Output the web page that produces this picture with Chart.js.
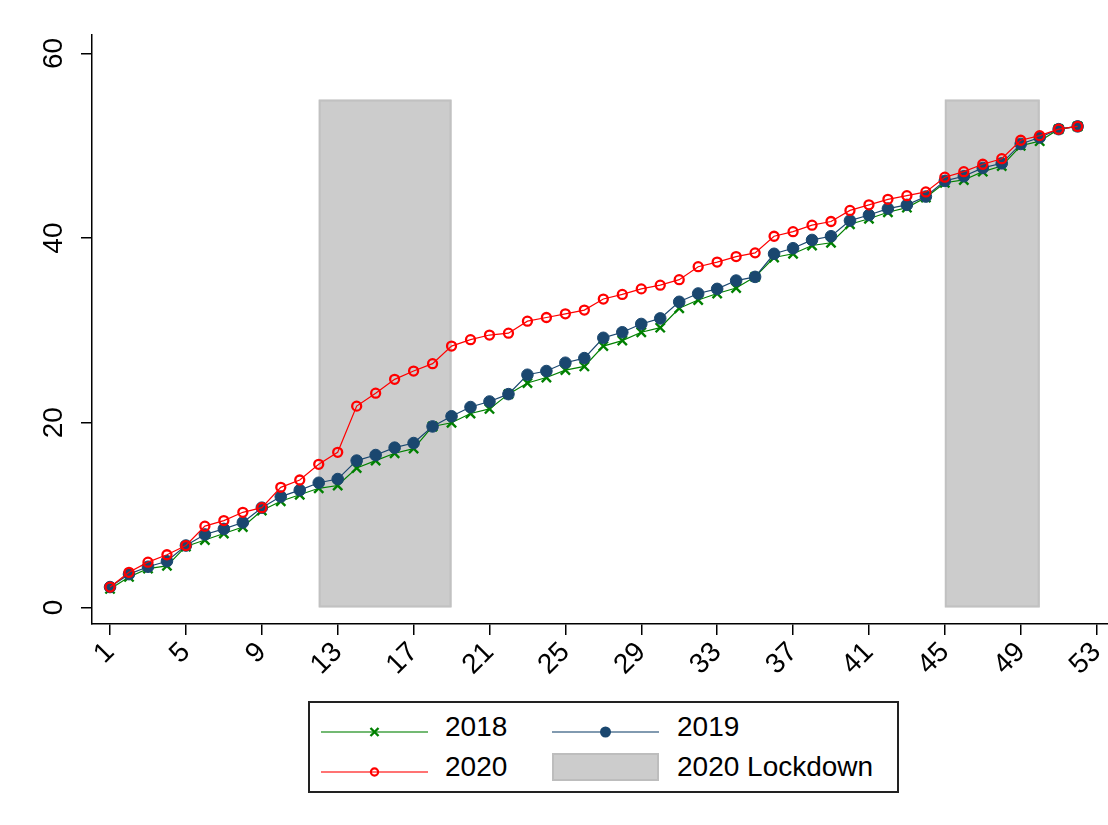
<!DOCTYPE html>
<html>
<head>
<meta charset="utf-8">
<script src="https://cdn.jsdelivr.net/npm/chart.js@4.4.1/dist/chart.umd.min.js"></script>
<style>
  body { margin: 0; background: #fff; }
  #wrap { position: relative; width: 1108px; height: 825px; }
  #chart { position: absolute; left: 0; top: 0; }
  #legend {
    position: absolute; left: 308px; top: 701px; width: 591px; height: 92px;
    box-sizing: border-box; border: 2px solid #222;
    font-family: "Liberation Sans", Arial, sans-serif; font-size: 28px; color: #000;
  }
  .key { position: absolute; }
  .lbl { position: absolute; line-height: 1; transform: translateY(-50%); white-space: nowrap; }
</style>
</head>
<body>
<div id="wrap">
  <canvas id="chart" width="1108" height="700"></canvas>
  <div id="legend"></div>
</div>
<script>
// week of year
var weeks = [1, 2, 3, 4, 5, 6, 7, 8, 9, 10, 11, 12, 13, 14, 15, 16, 17, 18, 19, 20,
  21, 22, 23, 24, 25, 26, 27, 28, 29, 30, 31, 32, 33, 34, 35, 36, 37, 38, 39, 40,
  41, 42, 43, 44, 45, 46, 47, 48, 49, 50, 51, 52];

var y2018 = [2.0, 3.3, 4.2, 4.5, 6.6, 7.3, 8.0, 8.7, 10.5, 11.5, 12.2, 12.9, 13.2, 15.1, 15.9, 16.7, 17.2, 19.6, 20.0, 21.0,
  21.5, 23.1, 24.3, 24.9, 25.7, 26.1, 28.3, 28.9, 29.8, 30.3, 32.4, 33.3, 34.0, 34.6, 35.8, 37.9, 38.3, 39.2, 39.5, 41.5,
  42.1, 42.8, 43.3, 44.4, 46.0, 46.3, 47.2, 47.8, 50.0, 50.5, 51.8, 52.1];

var y2019 = [2.2, 3.6, 4.4, 5.0, 6.7, 7.9, 8.5, 9.2, 10.8, 12.0, 12.7, 13.5, 13.9, 15.9, 16.5, 17.3, 17.8, 19.6, 20.7, 21.7,
  22.3, 23.1, 25.2, 25.6, 26.5, 27.0, 29.2, 29.8, 30.7, 31.3, 33.1, 34.0, 34.5, 35.4, 35.8, 38.3, 38.9, 39.8, 40.2, 41.9,
  42.5, 43.2, 43.6, 44.5, 46.2, 46.7, 47.6, 48.1, 50.2, 50.9, 51.8, 52.1];

var y2020 = [2.2, 3.8, 4.9, 5.7, 6.7, 8.8, 9.4, 10.3, 10.8, 13.0, 13.8, 15.5, 16.8, 21.8, 23.2, 24.7, 25.6, 26.4, 28.3, 29.0,
  29.5, 29.7, 31.0, 31.4, 31.8, 32.2, 33.4, 33.9, 34.5, 34.9, 35.5, 36.9, 37.4, 38.0, 38.4, 40.2, 40.7, 41.4, 41.8, 43.0,
  43.6, 44.2, 44.6, 45.0, 46.6, 47.2, 48.0, 48.6, 50.6, 51.1, 51.8, 52.1];

// lockdown periods (weeks) and the height of the shading
var lockdownStart = [12, 45];
var lockdownEnd = [19, 50];
var lockdownTop = 55;

var xTicks = [1, 5, 9, 13, 17, 21, 25, 29, 33, 37, 41, 45, 49, 53];
var yTicks = [0, 20, 40, 60];

var fonte = '"Liberation Sans", Arial, sans-serif';

function pontos(valores){
    return weeks.map(function(w, i){ return {x: w, y: valores[i]}; });
}

// grey blocks behind the lines
var sombraLockdown = {
    id: 'sombraLockdown',
    beforeDatasetsDraw: function(chart){
        var ctx = chart.ctx, x = chart.scales.x, y = chart.scales.y;
        ctx.save();
        ctx.fillStyle = '#cccccc';
        ctx.strokeStyle = '#c1c1c1';
        ctx.lineWidth = 2;
        for (var i = 0; i < lockdownStart.length; i++) {
            var esq = x.getPixelForValue(lockdownStart[i]);
            var dir = x.getPixelForValue(lockdownEnd[i]);
            var topo = y.getPixelForValue(lockdownTop);
            var base = y.getPixelForValue(0);
            ctx.fillRect(esq, topo, dir - esq, base - topo);
            ctx.strokeRect(esq + 1, topo + 1, dir - esq - 2, base - topo - 2);
        }
        ctx.restore();
    }
};

var series = [
    {
        label: '2018', data: pontos(y2018), order: 3,
        borderColor: '#008000', backgroundColor: '#008000', borderWidth: 1.2,
        pointStyle: 'crossRot', pointRadius: 6.5, pointBorderWidth: 2.4,
        legendLine: 'rgba(0,128,0,0.55)'
    },
    {
        label: '2019', data: pontos(y2019), order: 2,
        borderColor: '#1a476f', backgroundColor: '#1a476f', borderWidth: 1.2,
        pointStyle: 'circle', pointRadius: 5.8, pointBorderWidth: 1,
        legendLine: 'rgba(26,71,111,0.55)'
    },
    {
        label: '2020', data: pontos(y2020), order: 1,
        borderColor: '#ff0000', backgroundColor: 'rgba(0,0,0,0)', borderWidth: 1.2,
        pointStyle: 'circle', pointRadius: 4.5, pointBorderWidth: 2.3,
        legendLine: 'rgba(255,0,0,0.55)'
    }
];

new Chart(document.getElementById('chart'), {
    type: 'line',
    data: { datasets: series },
    options: {
        responsive: false,
        animation: false,
        layout: { autoPadding: false, padding: { top: 35, left: 0, right: 0, bottom: 0 } },
        plugins: { legend: { display: false }, tooltip: { enabled: false } },
        scales: {
            x: {
                type: 'linear', min: 0.05, max: 53.6,
                afterBuildTicks: function(s){ s.ticks = xTicks.map(function(v){ return {value: v}; }); },
                afterFit: function(s){ s.height = 76; s.paddingLeft = 0; s.paddingRight = 0; },
                grid: { drawOnChartArea: false, drawTicks: true, tickLength: 11, color: '#000', lineWidth: 1.5 },
                border: { display: true, color: '#000', width: 1.5 },
                ticks: { autoSkip: false, minRotation: 45, maxRotation: 45, padding: 1, color: '#000', font: { family: fonte, size: 28 } }
            },
            y: {
                min: -1.8, max: 62,
                afterBuildTicks: function(s){ s.ticks = yTicks.map(function(v){ return {value: v}; }); },
                afterFit: function(s){ s.width = 92; s.paddingTop = 0; s.paddingBottom = 0; },
                grid: { drawOnChartArea: false, drawTicks: true, tickLength: 11, color: '#000', lineWidth: 1.5 },
                border: { display: true, color: '#000', width: 1.5 },
                ticks: { minRotation: 90, maxRotation: 90, crossAlign: 'center', padding: 11, color: '#000', font: { family: fonte, size: 28 } }
            }
        }
    },
    plugins: [sombraLockdown]
});

// legend box under the plot, two columns
function amostra(ds){
    var s = '<svg width="107" height="20"><line x1="0" y1="10" x2="107" y2="10" stroke="' + ds.legendLine + '" stroke-width="2"/>';
    if (ds.pointStyle === 'crossRot') {
        s += '<path d="M49.5 6 L57.5 14 M57.5 6 L49.5 14" stroke="' + ds.borderColor + '" stroke-width="2.4"/>';
    } else if (ds.backgroundColor === 'rgba(0,0,0,0)') {
        s += '<circle cx="53.5" cy="10" r="3.6" fill="none" stroke="' + ds.borderColor + '" stroke-width="2.2"/>';
    } else {
        s += '<circle cx="53.5" cy="10" r="5.5" fill="' + ds.backgroundColor + '"/>';
    }
    return s + '</svg>';
}

var legenda = document.getElementById('legend');
var posicoes = [
    {kx: 11, tx: 135, cy: 24},
    {kx: 242, tx: 367, cy: 24},
    {kx: 11, tx: 135, cy: 64}
];
series.forEach(function(ds, i){
    var p = posicoes[i];
    legenda.innerHTML += '<div class="key" style="left:' + p.kx + 'px;top:' + (p.cy - 10) + 'px">' + amostra(ds) + '</div>' +
        '<div class="lbl" style="left:' + p.tx + 'px;top:' + p.cy + 'px">' + ds.label + '</div>';
});
legenda.innerHTML += '<div class="key" style="left:242px;top:50px;width:107px;height:28px;box-sizing:border-box;background:#cccccc;border:2px solid #bdbdbd"></div>' +
    '<div class="lbl" style="left:367px;top:64px">2020 Lockdown</div>';
</script>
</body>
</html>
